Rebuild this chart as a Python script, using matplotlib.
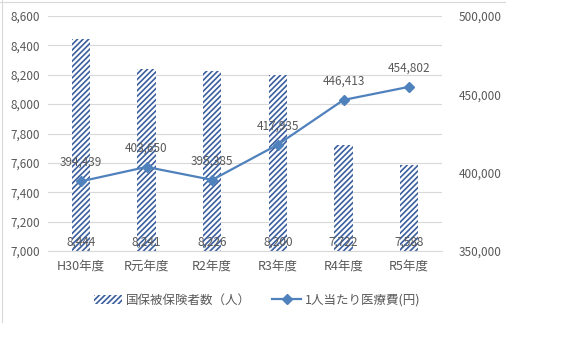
import matplotlib.pyplot as plt
from matplotlib.lines import Line2D
import numpy as np

plt.rcParams['font.family'] = ['Noto Sans CJK JP', 'DejaVu Sans']
plt.rcParams['hatch.linewidth'] = 1.2

# データ
years = ['H30年度', 'R元年度', 'R2年度', 'R3年度', 'R4年度', 'R5年度']
insured = [8444, 8241, 8226, 8200, 7722, 7588]
cost = [394439, 403650, 395385, 417935, 446413, 454802]

txt = '#595959'
bar_col = '#3B5F9E'
line_col = '#4F81BD'

fig = plt.figure(figsize=(5.74, 3.51), dpi=100)
ax = fig.add_axes([48 / 574, 1 - 251 / 351, 394 / 574, 235 / 351])
ax2 = ax.twinx()

x = np.arange(len(years))
ax.bar(x, np.array(insured) - 7000, bottom=7000, width=0.28, color='white',
       edgecolor=bar_col, hatch='//////', linewidth=0, zorder=2)
ax.set_ylim(7000, 8600)
ax.set_xlim(-0.5, len(years) - 0.5)
ax.set_yticks(np.arange(7000, 8601, 200))
ax.yaxis.set_major_formatter(plt.FuncFormatter(lambda v, p: f'{int(v):,}'))
ax.grid(axis='y', color='#D9D9D9', linewidth=0.8, zorder=0)
ax.set_axisbelow(True)
ax.set_xticks(x)
ax.set_xticklabels(years)
for i, v in enumerate(insured):
    ax.text(i, 7062, f'{v:,}', ha='center', va='center', fontsize=8.5, color=txt, zorder=5)

ax2.plot(x, cost, color=line_col, marker='D', markersize=5, linewidth=1.6, zorder=4)
ax2.set_ylim(350000, 500000)
ax2.set_yticks([350000, 400000, 450000, 500000])
ax2.yaxis.set_major_formatter(plt.FuncFormatter(lambda v, p: f'{int(v):,}'))
for i, v in enumerate(cost):
    ax2.text(i, v + 12000, f'{v:,}', ha='center', va='center', fontsize=8.5, color=txt, zorder=5)

for a in (ax, ax2):
    for s in a.spines.values():
        s.set_visible(False)
    a.tick_params(length=0, labelsize=8.5, colors=txt)
ax.spines['bottom'].set_visible(True)
ax.spines['bottom'].set_color('#D9D9D9')
ax.tick_params(axis='y', pad=6)
ax.tick_params(axis='x', labelsize=9, pad=6)
ax2.tick_params(axis='y', pad=12)

handles = [
    plt.Rectangle((0, 0), 1, 1, facecolor='white', edgecolor=bar_col, hatch='//////', linewidth=0),
    Line2D([0], [0], color=line_col, marker='D', markersize=5, linewidth=1.6),
]
fig.legend(handles, ['国保被保険者数（人）', '1人当たり医療費(円)'], loc='center',
           bbox_to_anchor=(257 / 574, 1 - 300 / 351), ncol=2, frameon=False,
           fontsize=9, labelcolor=txt, handlelength=2.3, handletextpad=0.3,
           columnspacing=1.7)

# 外枠
fig.add_artist(Line2D([0, 505 / 574], [1 - 1.5 / 351] * 2, color='#D9D9D9', linewidth=0.8))
fig.add_artist(Line2D([1.5 / 574] * 2, [1 - 322 / 351, 1], color='#D9D9D9', linewidth=0.8))

fig.savefig('out.png', dpi=100)
